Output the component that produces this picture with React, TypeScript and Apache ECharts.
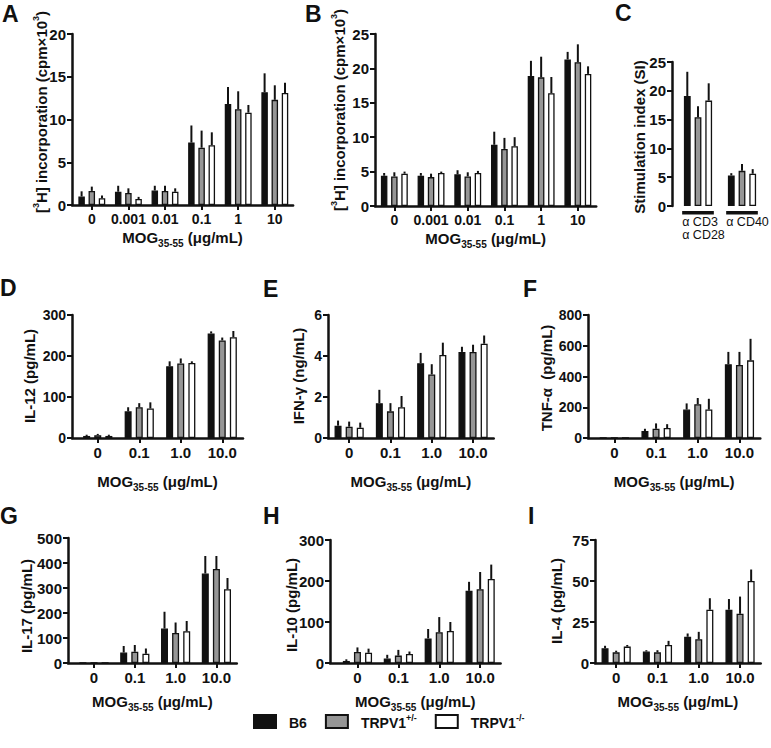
import React, { useEffect, useRef } from 'react';
import * as echarts from 'echarts';

// ---------- categories ----------
const groupNames = ['B6', 'TRPV1+/-', 'TRPV1-/-'];
const mogFine = ['0', '0.001', '0.01', '0.1', '1', '10'];
const mogCoarse = ['0', '0.1', '1.0', '10.0'];
const stimCats = ['α CD3\nα CD28', 'α CD40'];

// ---------- A: [3H] incorporation ----------
const aB6 = [1.0, 1.55, 1.7, 7.3, 11.8, 13.2];
const aB6Sem = [0.6, 0.7, 0.55, 2.0, 2.0, 2.2];
const aHet = [1.65, 1.4, 1.65, 6.7, 11.2, 12.3];
const aHetSem = [0.5, 0.55, 0.6, 2.0, 2.1, 1.7];
const aKO = [0.8, 0.7, 1.55, 7.0, 10.8, 13.1];
const aKOSem = [0.3, 0.25, 0.4, 1.5, 0.9, 1.2];

// ---------- B: [3H] incorporation ----------
const bB6 = [4.4, 4.4, 4.6, 8.9, 18.9, 21.3];
const bB6Sem = [0.4, 0.4, 0.6, 1.9, 2.2, 1.1];
const bHet = [4.3, 4.2, 4.3, 8.3, 18.7, 20.9];
const bHetSem = [0.6, 0.5, 0.6, 1.6, 3.0, 2.6];
const bKO = [4.7, 4.8, 4.8, 8.7, 16.4, 19.2];
const bKOSem = [0.3, 0.2, 0.3, 1.3, 2.35, 1.1];

// ---------- C: stimulation index ----------
const cB6 = [19.1, 5.3];
const cB6Sem = [4.2, 0.4];
const cHet = [15.4, 6.1];
const cHetSem = [1.9, 1.2];
const cKO = [18.3, 5.6];
const cKOSem = [3.0, 0.8];

// ---------- D: IL-12 ----------
const dB6 = [5, 65, 175, 255];
const dB6Sem = [3, 10, 12, 5];
const dHet = [7, 75, 182, 238];
const dHetSem = [3, 10, 12, 7];
const dKO = [5, 72, 183, 246];
const dKOSem = [3, 15, 4, 15];

// ---------- E: IFN-γ ----------
const eB6 = [0.6, 1.7, 3.65, 4.2];
const eB6Sem = [0.25, 0.65, 0.5, 0.25];
const eHet = [0.55, 1.3, 3.1, 4.2];
const eHetSem = [0.25, 0.4, 0.5, 0.35];
const eKO = [0.5, 1.5, 4.05, 4.6];
const eKOSem = [0.25, 0.55, 0.6, 0.4];

// ---------- F: TNF-α ----------
const fB6 = [0, 45, 185, 480];
const fB6Sem = [0, 15, 40, 80];
const fHet = [0, 60, 220, 475];
const fHetSem = [0, 35, 40, 85];
const fKO = [0, 65, 185, 505];
const fKOSem = [0, 25, 70, 140];

// ---------- G: IL-17 ----------
const gB6 = [0, 42, 138, 358];
const gB6Sem = [0, 26, 67, 70];
const gHet = [0, 45, 120, 376];
const gHetSem = [0, 27, 42, 52];
const gKO = [0, 37, 127, 295];
const gKOSem = [0, 21, 41, 45];

// ---------- H: IL-10 ----------
const hB6 = [5, 11, 60, 176];
const hB6Sem = [4, 9, 23, 22];
const hHet = [27, 18, 75, 180];
const hHetSem = [11, 14, 37, 42];
const hKO = [25, 22, 78, 205];
const hKOSem = [10, 6, 22, 35];

// ---------- I: IL-4 ----------
const iB6 = [9, 7, 16, 32.5];
const iB6Sem = [1.5, 0.8, 2, 6.5];
const iHet = [6.5, 6.5, 14.5, 30];
const iHetSem = [1, 1.3, 4.5, 10.5];
const iKO = [10, 11, 32.5, 50];
const iKOSem = [1, 2.5, 7, 7];

// ---------- style ----------
const FONT = "'Liberation Sans', Arial, Helvetica, sans-serif";
const INK = '#111';
const FILLS = ['#111111', '#969696', '#ffffff'];

const cpmName = '{a|[}{p|3}{a|H] incorporation (cpm×10}{p|3}{a|)}';
const mogName = '{a|MOG}{s|35-55}{a| (μg/mL)}';

type Panel = {
  letter: string; lx: number; ly: number;
  cats: string[]; vals: number[][]; sems: number[][];
  yMax: number; step: number;
  axisX: number; top: number; height: number; gap: number; band: number;
  barW: number; gapPx: number;
  yName: string; yNameX: number; yNameY: number; xNameGap: number | null;
  xLabelSize: number; yLabelSize: number; stim?: boolean;
};

const panels: Panel[] = [
  { letter: 'A', lx: 2, ly: 14, cats: mogFine, vals: [aB6, aHet, aKO], sems: [aB6Sem, aHetSem, aKOSem],
    yMax: 20, step: 5, axisX: 72, top: 34, height: 171, gap: 1.5, band: 36.6, barW: 6.5, gapPx: 3.7,
    yName: cpmName, yNameX: 40, yNameY: 112, xNameGap: 25, xLabelSize: 14, yLabelSize: 15 },
  { letter: 'B', lx: 305, ly: 14, cats: mogFine, vals: [bB6, bHet, bKO], sems: [bB6Sem, bHetSem, bKOSem],
    yMax: 25, step: 5, axisX: 375, top: 34, height: 172, gap: 1, band: 36.7, barW: 6.5, gapPx: 3.7,
    yName: cpmName, yNameX: 338, yNameY: 110, xNameGap: 25, xLabelSize: 14, yLabelSize: 15 },
  { letter: 'C', lx: 615, ly: 13, cats: stimCats, vals: [cB6, cHet, cKO], sems: [cB6Sem, cHetSem, cKOSem],
    yMax: 25, step: 5, axisX: 672, top: 62, height: 144, gap: 4, band: 44, barW: 6.8, gapPx: 3.9,
    yName: '{a|Stimulation index (SI)}', yNameX: 638, yNameY: 137, xNameGap: null, xLabelSize: 14, yLabelSize: 15, stim: true },
  { letter: 'D', lx: 0, ly: 288, cats: mogCoarse, vals: [dB6, dHet, dKO], sems: [dB6Sem, dHetSem, dKOSem],
    yMax: 300, step: 100, axisX: 72, top: 315, height: 123, gap: 5, band: 41.5, barW: 7, gapPx: 4.1,
    yName: '{a|IL-12 (pg/mL)}', yNameX: 28, yNameY: 376, xNameGap: 36, xLabelSize: 15, yLabelSize: 14 },
  { letter: 'E', lx: 263, ly: 288.5, cats: mogCoarse, vals: [eB6, eHet, eKO], sems: [eB6Sem, eHetSem, eKOSem],
    yMax: 6, step: 2, axisX: 328, top: 315, height: 123, gap: 0.5, band: 41.3, barW: 7, gapPx: 4.1,
    yName: '{a|IFN-γ (ng/mL)}', yNameX: 297, yNameY: 376, xNameGap: 36, xLabelSize: 15, yLabelSize: 14 },
  { letter: 'F', lx: 523, ly: 288.5, cats: mogCoarse, vals: [fB6, fHet, fKO], sems: [fB6Sem, fHetSem, fKOSem],
    yMax: 800, step: 200, axisX: 588, top: 315, height: 123, gap: 5.5, band: 41.7, barW: 7, gapPx: 4.1,
    yName: '{a|TNF-α  (pg/mL)}', yNameX: 545, yNameY: 378, xNameGap: 36, xLabelSize: 15, yLabelSize: 14 },
  { letter: 'G', lx: 0, ly: 516, cats: mogCoarse, vals: [gB6, gHet, gKO], sems: [gB6Sem, gHetSem, gKOSem],
    yMax: 500, step: 100, axisX: 68, top: 538, height: 125, gap: 5.6, band: 40.8, barW: 7, gapPx: 4.1,
    yName: '{a|IL-17 (pg/mL)}', yNameX: 25, yNameY: 606, xNameGap: 31, xLabelSize: 15, yLabelSize: 15 },
  { letter: 'H', lx: 263, ly: 516, cats: mogCoarse, vals: [hB6, hHet, hKO], sems: [hB6Sem, hHetSem, hKOSem],
    yMax: 300, step: 100, axisX: 330, top: 540, height: 123, gap: 7, band: 40.9, barW: 7, gapPx: 4.1,
    yName: '{a|IL-10 (pg/mL)}', yNameX: 290, yNameY: 605, xNameGap: 31, xLabelSize: 15, yLabelSize: 15 },
  { letter: 'I', lx: 528, ly: 516, cats: mogCoarse, vals: [iB6, iHet, iKO], sems: [iB6Sem, iHetSem, iKOSem],
    yMax: 75, step: 25, axisX: 595, top: 540, height: 123, gap: 0.5, band: 41.3, barW: 7, gapPx: 4.1,
    yName: '{a|IL-4 (pg/mL)}', yNameX: 555, yNameY: 601, xNameGap: 31, xLabelSize: 15, yLabelSize: 15 },
];

const yNameRich = {
  a: { fontFamily: FONT, fontSize: 15, fontWeight: 'bold', fill: INK, color: INK, lineHeight: 18, padding: [3, 0, 0, 0], verticalAlign: 'bottom' },
  p: { fontFamily: FONT, fontSize: 9, fontWeight: 'bold', fill: INK, color: INK, lineHeight: 14, verticalAlign: 'top' },
};

function buildOption() {
  const grid: any[] = [];
  const xAxis: any[] = [];
  const yAxis: any[] = [];
  const series: any[] = [];
  const graphic: any[] = [];

  const axisLineStyle = { color: INK, width: 2.5 };
  const tickStyle = { color: INK, width: 2 };

  panels.forEach((p, k) => {
    const n = p.cats.length;
    const width = p.gap + n * p.band;
    const idx = p.cats.map((_, i) => i);
    grid.push({ left: p.axisX, top: p.top, width, height: p.height, containLabel: false });

    xAxis.push({
      gridIndex: k,
      type: 'value',
      min: -0.5 - p.gap / p.band,
      max: n - 0.5,
      axisLine: { show: !p.stim, onZero: false, lineStyle: axisLineStyle },
      axisTick: { show: !p.stim, customValues: idx, length: 5, lineStyle: tickStyle },
      axisLabel: {
        show: !p.stim,
        customValues: idx,
        showMinLabel: true,
        showMaxLabel: true,
        hideOverlap: false,
        formatter: (v: number) => p.cats[Math.round(v)] ?? '',
        fontFamily: FONT,
        fontSize: p.xLabelSize,
        fontWeight: 'bold',
        color: INK,
        margin: 7,
      },
      splitLine: { show: false },
      name: p.xNameGap === null ? '' : mogName,
      nameLocation: 'middle',
      nameGap: p.xNameGap ?? 0,
      nameTextStyle: {
        rich: {
          a: { fontFamily: FONT, fontSize: 15, fontWeight: 'bold', color: INK, lineHeight: 18, padding: [0, 0, 2, 0], verticalAlign: 'top' },
          s: { fontFamily: FONT, fontSize: 10, fontWeight: 'bold', color: INK, lineHeight: 12, verticalAlign: 'bottom' },
        },
      },
    });

    yAxis.push({
      gridIndex: k,
      type: 'value',
      min: 0,
      max: p.yMax,
      interval: p.step,
      axisLine: { show: true, onZero: false, lineStyle: axisLineStyle },
      axisTick: { show: true, length: 5, lineStyle: tickStyle },
      axisLabel: { fontFamily: FONT, fontSize: p.yLabelSize, fontWeight: 'bold', color: INK, margin: 6 },
      splitLine: { show: false },
    });

    const barGap = `${((p.gapPx / p.barW) * 100).toFixed(1)}%`;
    for (let s = 0; s < 3; s++) {
      series.push({
        type: 'bar',
        name: groupNames[s],
        xAxisIndex: k,
        yAxisIndex: k,
        data: p.vals[s].map((v, i) => [i, v]),
        barWidth: p.barW,
        barGap,
        itemStyle: { color: FILLS[s], borderColor: INK, borderWidth: 1.3 },
        emphasis: { disabled: true },
        silent: true,
        z: 2,
      });
    }
    for (let s = 0; s < 3; s++) {
      const dx = (s - 1) * (p.barW + p.gapPx);
      series.push({
        type: 'custom',
        name: 'sem',
        xAxisIndex: k,
        yAxisIndex: k,
        silent: true,
        z: 3,
        data: p.vals[s].map((v, i) => [i, v, v + p.sems[s][i]]),
        renderItem: (_params: any, api: any) => {
          const lo = api.value(1);
          const hi = api.value(2);
          if (!(hi > lo)) return { type: 'group', children: [] };
          const b = api.coord([api.value(0), lo]);
          const t = api.coord([api.value(0), hi]);
          return {
            type: 'line',
            shape: { x1: b[0] + dx, y1: b[1], x2: b[0] + dx, y2: t[1] },
            style: { stroke: INK, lineWidth: 2 },
          };
        },
      });
    }
    if (p.stim) {
      // group underlines
      series.push({
        type: 'custom',
        name: 'groupLines',
        xAxisIndex: k,
        yAxisIndex: k,
        silent: true,
        clip: false,
        z: 5,
        data: idx.map((i) => [i, 0]),
        renderItem: (_params: any, api: any) => {
          const i = api.value(0);
          const l = api.coord([i - 0.36, 0]);
          const r = api.coord([i + 0.36, 0]);
          return {
            type: 'rect',
            shape: { x: l[0], y: l[1] + 5, width: r[0] - l[0], height: 3.5 },
            style: { fill: INK },
            z2: 10,
          };
        },
      });
      // group labels
      series.push({
        type: 'custom',
        name: 'groupLabels',
        xAxisIndex: k,
        yAxisIndex: k,
        silent: true,
        clip: false,
        z: 4,
        data: idx.map((i) => [i, 0]),
        renderItem: (_params: any, api: any) => {
          const i = Math.round(api.value(0));
          const l = api.coord([i - 0.36, 0]);
          const lines = p.cats[i].split('\n');
          return {
            type: 'group',
            children: lines.map((t, j) => ({
              type: 'text',
              x: l[0],
              y: l[1] + 15.5 + j * 13.5,
              style: { text: t, fontFamily: FONT, fontSize: 12.5, fill: INK, align: 'left', verticalAlign: 'middle' },
            })),
          };
        },
      });
    }

    graphic.push({
      type: 'text',
      x: p.lx,
      y: p.ly,
      style: { text: p.letter, fontFamily: FONT, fontSize: 23, fontWeight: 'bold', fill: INK, verticalAlign: 'middle' },
    });
    graphic.push({
      type: 'text',
      x: p.yNameX,
      y: p.yNameY,
      rotation: Math.PI / 2,
      style: {
        text: p.yName,
        rich: yNameRich,
        fontFamily: FONT,
        fontSize: 15,
        fontWeight: 'bold',
        fill: INK,
        align: 'center',
        verticalAlign: 'middle',
      },
    });
  });

  return {
    animation: false,
    backgroundColor: '#fff',
    grid,
    xAxis,
    yAxis,
    series,
    graphic,
    legend: {
      data: groupNames,
      left: 248,
      top: 708,
      icon: 'rect',
      itemWidth: 22,
      itemHeight: 13,
      itemGap: 18,
      selectedMode: false,
      formatter: (name: string) => {
        if (name === 'B6') return '{a|B6}';
        return '{a|TRPV1}{p|' + name.slice(5) + '}';
      },
      textStyle: {
        rich: {
          a: { fontFamily: FONT, fontSize: 14, fontWeight: 'bold', color: INK, lineHeight: 17, padding: [3, 0, 0, 8], verticalAlign: 'bottom' },
          p: { fontFamily: FONT, fontSize: 9, fontWeight: 'bold', color: INK, lineHeight: 13, verticalAlign: 'top' },
        },
      },
    },
  };
}

export default function App() {
  const ref = useRef<HTMLDivElement>(null);
  useEffect(() => {
    document.body.style.margin = '0';
    const chart = echarts.init(ref.current!, null, { renderer: 'svg' });
    chart.setOption(buildOption() as any);
    return () => chart.dispose();
  }, []);
  return (
    <div
      ref={ref}
      style={{ position: 'absolute', left: 0, top: 0, width: 771, height: 748, background: '#fff' }}
    />
  );
}
